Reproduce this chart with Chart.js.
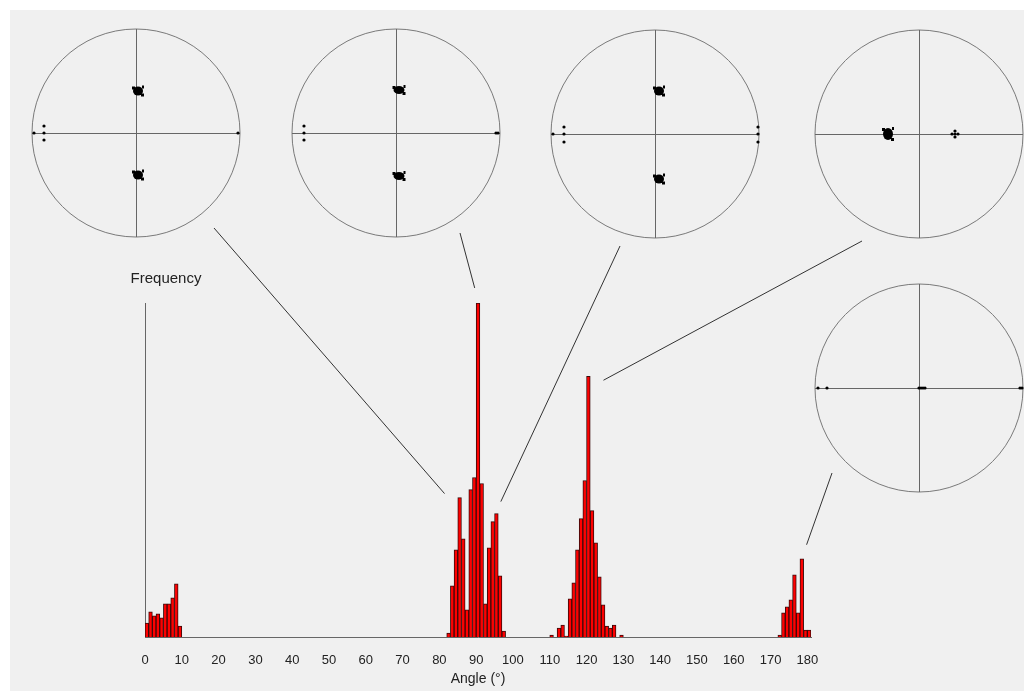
<!DOCTYPE html>
<html>
<head>
<meta charset="utf-8">
<script src="https://cdn.jsdelivr.net/npm/chart.js@4.4.1/dist/chart.umd.min.js"></script>
<style>
  html, body { margin: 0; padding: 0; background: #fff; }
  #wrap { width: 1024px; height: 691px; }
</style>
</head>
<body>
<div id="wrap"><canvas id="hist" width="1024" height="691"></canvas></div>
<script>
// histogram bins (degrees, 1 degree wide) and their frequency
const binStart = [0,1,2,3,4,5,6,7,8,9,
  82,83,84,85,86,87,88,89,90,91,92,93,94,95,96,97,
  110,112,113,114,115,116,117,118,119,120,121,122,123,124,125,126,127,129,
  172,173,174,175,176,177,178,179,180];
const frequency = [14,25,21,23,19,33,33,39,53,11,
  4,51,87,139,98,27,147,159,333,153,33,89,115,123,61,6,
  2,9,12,1,38,54,87,118,156,260,126,94,60,32,11,9,12,2,
  2,24,30,37,62,24,78,7,7];
const tickLabels = [0,10,20,30,40,50,60,70,80,90,100,110,120,130,140,150,160,170,180];

// which peak each stereonet points to: [angle, frequency] at the line's chart end
const peakPointers = [[81.4,143],[89.6,348],[96.7,135],[124.6,256],[179.8,92]];

// stereonet insets (pixel layout) and the pole clusters in each
const nets = [
  {cx:136, cy:133, from:[214,228], blobs:[[2,-42,10,9],[2,42,10,9]], dots:[[-92,-7],[-92,0],[-92,7],[-102,0],[102,0]]},
  {cx:396, cy:133, from:[460,233], blobs:[[3,-43,11,8],[3,43,11,8]], dots:[[-92,-7],[-92,0],[-92,7],[100,0],[102,0]]},
  {cx:655, cy:134, from:[620,246], blobs:[[4,-43,10,9],[4,45,10,9]], dots:[[-91,-7],[-91,0],[-91,8],[103,-7],[103,0],[103,8],[-102,0]]},
  {cx:919, cy:134, from:[862,241], blobs:[[-31,0,10,12]], dots:[[33,0],[36,-3],[36,0],[36,3],[39,0]]},
  {cx:919, cy:388, from:[832,473], blobs:[], dots:[[-101,0],[-92,0],[0,0],[2,0],[4,0],[6,0],[101,0],[103,0]]}
];
const netRadius = 104;

const bars = binStart.map((a, i) => ({ x: a + 0.5, y: frequency[i] }));

const decor = {
  id: 'decor',
  beforeDraw(chart) {
    const c = chart.ctx;
    c.save();
    c.fillStyle = '#ffffff';
    c.fillRect(0, 0, chart.width, chart.height);
    c.fillStyle = '#f0f0f0';
    c.fillRect(10, 10, chart.width - 10, chart.height - 10);
    c.restore();
  },
  afterDraw(chart) {
    const c = chart.ctx;
    const xs = chart.scales.x, ys = chart.scales.y;
    const area = chart.chartArea;
    c.save();
    // y label
    c.fillStyle = '#222';
    c.font = '15px "Liberation Sans", Arial, sans-serif';
    c.textAlign = 'center';
    c.textBaseline = 'middle';
    c.fillText('Frequency', area.left + 21, area.top - 24);

    nets.forEach((n, k) => {
      // circle and cross
      c.strokeStyle = '#7a7a7a';
      c.lineWidth = 1;
      c.beginPath();
      c.arc(n.cx, n.cy, netRadius, 0, Math.PI * 2);
      c.stroke();
      c.strokeStyle = '#666';
      c.beginPath();
      c.moveTo(n.cx - netRadius, n.cy + 0.5); c.lineTo(n.cx + netRadius, n.cy + 0.5);
      c.moveTo(n.cx + 0.5, n.cy - netRadius); c.lineTo(n.cx + 0.5, n.cy + netRadius);
      c.stroke();
      // pole clusters
      c.fillStyle = '#000';
      n.blobs.forEach(([dx, dy, w, h]) => {
        const x = n.cx + dx, y = n.cy + dy;
        c.beginPath();
        c.ellipse(x, y, w / 2, h / 2, 0, 0, Math.PI * 2);
        c.fill();
        c.fillRect(x - w / 2 - 1, y - h / 2, 3, 3);
        c.fillRect(x + w / 2 - 2, y + h / 2 - 2, 3, 3);
        c.fillRect(x + w / 2 - 1, y - h / 2 - 1, 2, 3);
      });
      n.dots.forEach(([dx, dy]) => {
        c.beginPath();
        c.arc(n.cx + dx, n.cy + dy, 1.6, 0, Math.PI * 2);
        c.fill();
      });
      // pointer to the peak
      const [ang, fr] = peakPointers[k];
      c.strokeStyle = '#333';
      c.lineWidth = 1;
      c.beginPath();
      c.moveTo(n.from[0], n.from[1]);
      c.lineTo(xs.getPixelForValue(ang), ys.getPixelForValue(fr));
      c.stroke();
    });
    c.restore();
  }
};

new Chart(document.getElementById('hist'), {
  type: 'bar',
  data: {
    datasets: [{
      label: 'Frequency',
      data: bars,
      backgroundColor: '#ff0000',
      borderColor: '#3a0a0a',
      borderWidth: 1,
      borderSkipped: 'bottom',
      categoryPercentage: 1,
      barPercentage: 1
    }]
  },
  options: {
    responsive: false,
    animation: false,
    devicePixelRatio: 1,
    layout: { padding: { left: 145, right: 213, top: 303, bottom: 0 } },
    plugins: { legend: { display: false }, tooltip: { enabled: false } },
    scales: {
      x: {
        type: 'linear',
        offset: false,
        min: 0,
        max: 181,
        grid: { display: false, drawTicks: false, offset: false },
        border: { display: true, color: '#666', width: 1 },
        afterFit: s => { s.height = 54; },
        afterBuildTicks: s => { s.ticks = tickLabels.map(v => ({ value: v })); },
        ticks: {
          padding: 16,
          color: '#222',
          font: { family: '"Liberation Sans", Arial, sans-serif', size: 13 },
          maxRotation: 0,
          autoSkip: false
        },
        title: {
          display: true,
          text: 'Angle (°)',
          color: '#222',
          font: { family: '"Liberation Sans", Arial, sans-serif', size: 14 },
          padding: { top: 0, bottom: 3 }
        }
      },
      y: {
        min: 0,
        max: 333,
        grid: { display: false, drawTicks: false },
        border: { display: true, color: '#666', width: 1 },
        ticks: { display: false },
        afterFit: s => { s.width = 0; }
      }
    }
  },
  plugins: [decor]
});
</script>
</body>
</html>
